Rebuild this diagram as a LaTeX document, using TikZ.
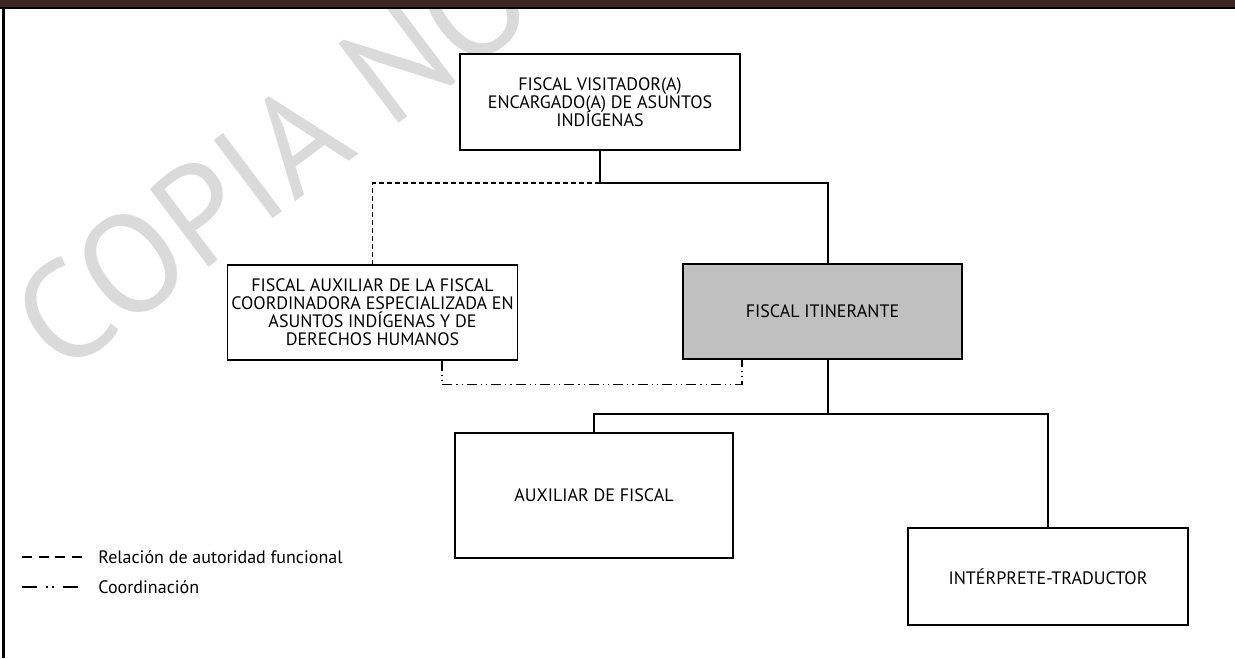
\documentclass[tikz,border=0pt]{standalone}
\usepackage{fontspec}
\setmainfont{PT Sans}
\usepackage{xcolor}
\definecolor{barbrown}{RGB}{60, 38, 32}
\definecolor{boxgray}{RGB}{192, 192, 192}
\definecolor{markgray}{RGB}{218, 218, 218}
\usetikzlibrary{positioning}
\newcommand{\puestofont}{\fontsize{9}{9}\selectfont\lineskiplimit=-5pt\relax}

\begin{document}
\begin{tikzpicture}[
    x=0.5pt, y=-0.5pt,
    box/.style={draw, line width=0.6pt, fill=white, align=center, inner sep=2pt, font=\puestofont},
    mainbox/.style={box, fill=boxgray, line width=1.2pt},
    link/.style={line width=0.6pt},
    authority/.style={link, dash pattern=on 2.5pt off 1.5pt},
    coord/.style={link, dash pattern=on 5pt off 2pt on 0.6pt off 2pt on 0.6pt off 2pt},
    legend/.style={anchor=west, inner sep=0pt, font=\fontsize{9}{10}\selectfont}
]
\useasboundingbox (0,0) rectangle (1235,658);

% === Marca de agua ===
\begin{scope}
    \clip (5,9) rectangle (1235,658);
    \node[markgray, rotate=37, inner sep=0pt, font=\fontsize{70}{70}\selectfont] (marca) at (272,158) {COPIA NO};
\end{scope}

% === Encabezado y margen ===
\fill[barbrown] (0,0) rectangle (1235,7);
\draw[line width=1pt] (0,8) -- (1235,8);
\draw[line width=1.2pt] (3.5,8) -- (3.5,658);

% === Puestos ===
\node[box, minimum width=140pt, minimum height=48pt] (visitador) at (600,102)
    {FISCAL VISITADOR(A)\\ENCARGADO(A) DE ASUNTOS\\INDÍGENAS};
\node[box, minimum width=140.5pt, minimum height=47.5pt] (auxfiscal) at (372.5,312.5)
    {FISCAL AUXILIAR DE LA FISCAL\\COORDINADORA ESPECIALIZADA EN\\ASUNTOS INDÍGENAS Y DE\\DERECHOS HUMANOS};
\node[mainbox, minimum width=139.5pt, minimum height=47.5pt] (itinerante) at (822.5,311.5) {FISCAL ITINERANTE};
\node[box, minimum width=139pt, minimum height=62.5pt] (auxiliar) at (594,495.5) {AUXILIAR DE FISCAL};
\node[box, minimum width=140pt, minimum height=48.5pt] (interprete) at (1048,576.5) {INTÉRPRETE-TRADUCTOR};

% === Líneas de mando ===
\coordinate (nudo) at (600,183);
\coordinate (bajada) at (828,414);
\draw[link] (visitador.south) -- (nudo) -| ([xshift=2.75pt]itinerante.north);
\draw[authority] (nudo) -| (auxfiscal.north);
\draw[link] ([xshift=2.75pt]itinerante.south) -- (bajada);
\draw[link] (auxiliar.north) |- (bajada) -| (interprete.north);

% Coordinación
\draw[coord] ([xshift=34.75pt]auxfiscal.south) -- ++(0,24) -| ([xshift=-40.25pt]itinerante.south);

% === Leyenda ===
\node[legend] (leyautoridad) at (98,557) {Relación de autoridad funcional};
\node[legend] (leycoord) at (98,587) {Coordinación};
\draw[line width=1.3pt, dash pattern=on 5pt off 3.3pt] (22,557) -- (82,557);
\draw[line width=1.3pt, dash pattern=on 7.5pt off 4.5pt on 0.8pt off 2.2pt on 0.8pt off 4.5pt] (22,587) -- (82,587);

\end{tikzpicture}
\end{document}
